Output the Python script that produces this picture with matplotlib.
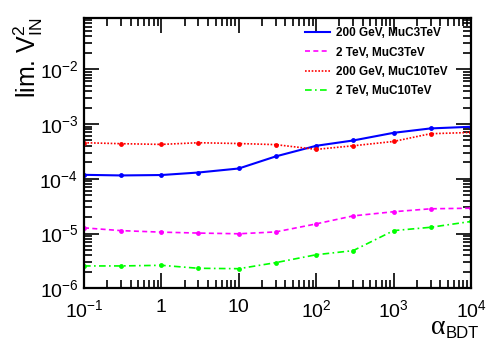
import matplotlib
matplotlib.use("Agg")
import matplotlib.pyplot as plt
import matplotlib.ticker as mticker
from matplotlib.lines import Line2D
import numpy as np

alpha_bdt = [0.1, 0.3, 1, 3, 10, 30, 100, 300, 1000, 3000, 10000]
lim_200gev_muc3 = [1.18e-4, 1.15e-4, 1.17e-4, 1.30e-4, 1.54e-4, 2.56e-4, 4.0e-4, 5.0e-4, 6.9e-4, 8.3e-4, 8.9e-4]
lim_2tev_muc3 = [1.27e-5, 1.13e-5, 1.06e-5, 1.02e-5, 0.99e-5, 1.07e-5, 1.5e-5, 2.1e-5, 2.5e-5, 2.83e-5, 2.9e-5]
lim_200gev_muc10 = [4.55e-4, 4.37e-4, 4.24e-4, 4.55e-4, 4.4e-4, 4.2e-4, 3.44e-4, 4.0e-4, 4.8e-4, 6.65e-4, 7.0e-4]
lim_2tev_muc10 = [2.56e-6, 2.56e-6, 2.63e-6, 2.32e-6, 2.28e-6, 2.94e-6, 4.1e-6, 4.87e-6, 1.13e-5, 1.30e-5, 1.66e-5]
labels = ["200 GeV, MuC3TeV", "2 TeV, MuC3TeV", "200 GeV, MuC10TeV", "2 TeV, MuC10TeV"]

plt.rcParams['font.family'] = ['Liberation Sans', 'DejaVu Sans']
plt.rcParams['mathtext.fontset'] = 'custom'
plt.rcParams['mathtext.rm'] = 'Liberation Sans'
plt.rcParams['mathtext.it'] = 'Liberation Sans'
plt.rcParams['mathtext.bf'] = 'Liberation Sans:bold'

fig = plt.figure(figsize=(4.98, 3.53), dpi=100)
ax = fig.add_axes([84/498, 1-288.3/353, (471-84)/498, (288.3-17.5)/353])

series = [
    (lim_200gev_muc3, '#0000ff', '-', 1.5),
    (lim_2tev_muc3, '#ff00ff', (0, (3, 2)), 1.2),
    (lim_200gev_muc10, '#ff0000', (0, (1, 1)), 1.2),
    (lim_2tev_muc10, '#00ff00', (0, (4, 2, 1, 2)), 1.2),
]
handles = []
for (vals, c, ls, lw), lab in zip(series, labels):
    ax.plot(alpha_bdt, vals, color=c, linestyle=ls, linewidth=lw,
            marker='o', markersize=3.5, markeredgewidth=0)
    handles.append(Line2D([], [], color=c, linestyle=ls, linewidth=lw, label=lab))

ax.set_xscale('log')
ax.set_yscale('log')
ax.set_xlim(0.1, 1e4)
ax.set_ylim(1e-6, 0.088)

def xfmt(v, pos):
    e = int(round(np.log10(v)))
    if e == 0:
        return '1'
    if e == 1:
        return '10'
    return r'$10^{%d}$' % e

def yfmt(v, pos):
    e = int(round(np.log10(v)))
    return r'$10^{%d}$' % e

ax.xaxis.set_major_locator(mticker.LogLocator(base=10, numticks=20))
ax.xaxis.set_minor_locator(mticker.LogLocator(base=10, subs=np.arange(2, 10), numticks=20))
ax.yaxis.set_major_locator(mticker.LogLocator(base=10, numticks=20))
ax.yaxis.set_minor_locator(mticker.LogLocator(base=10, subs=np.arange(2, 10), numticks=20))
ax.xaxis.set_major_formatter(mticker.FuncFormatter(xfmt))
ax.yaxis.set_major_formatter(mticker.FuncFormatter(yfmt))
ax.xaxis.set_minor_formatter(mticker.NullFormatter())
ax.yaxis.set_minor_formatter(mticker.NullFormatter())

ax.tick_params(which='both', direction='in', top=True, right=True, width=1.2, labelsize=14)
ax.tick_params(which='major', length=11)
ax.tick_params(which='minor', length=5.5)
ax.tick_params(axis='x', pad=8)
ax.tick_params(axis='y', pad=4)
for s in ax.spines.values():
    s.set_linewidth(1.6)

leg = fig.legend(handles=handles, loc='upper left', bbox_to_anchor=(305/498, 1-27.5/353),
                 bbox_transform=fig.transFigure, frameon=False,
                 prop={'size': 8.5, 'weight': 'bold'}, handlelength=2.15, handletextpad=0.5,
                 labelspacing=0.6, borderpad=0, borderaxespad=0)

fig.text(28/498, 1-17/353, r'lim. $\mathrm{V}^{2}_{\mathrm{IN}}$', rotation=90,
         ha='center', va='top', fontsize=18)
fig.text(445/498, 1-327/353, 'α', family='Liberation Serif', fontsize=20,
         ha='right', va='center')
fig.text(446/498, 1-333/353, 'BDT', fontsize=12, ha='left', va='center')

fig.savefig('out.png', dpi=100)
